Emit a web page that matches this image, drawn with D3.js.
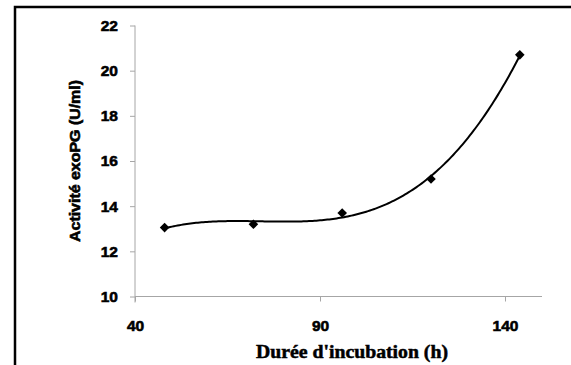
<!DOCTYPE html>
<html>
<head>
<meta charset="utf-8">
<script src="https://cdn.jsdelivr.net/npm/d3@7"></script>
<style>
  html, body { margin: 0; padding: 0; background: #fff; }
  svg { display: block; }
</style>
</head>
<body>
<svg id="chart" width="571" height="365"></svg>
<script>
// Incubation time (h) and exo-polygalacturonase activity (U/ml)
const hours = [48, 72, 96, 120, 144];
const activity = [13.05, 13.2, 13.7, 15.2, 20.7];
const xTicks = [40, 90, 140];
const yTicks = [10, 12, 14, 16, 18, 20, 22];

const svg = d3.select("#chart");
const W = 571, H = 365;

// outer chart frame (continues past right and bottom edges)
svg.append("rect")
  .attr("x", 15).attr("y", 7)
  .attr("width", W + 10).attr("height", H + 10)
  .attr("fill", "#fff").attr("stroke", "#000").attr("stroke-width", 2.5);

const x = d3.scaleLinear().domain([40, 150]).range([135, 542]);
const y = d3.scaleLinear().domain([10, 22]).range([296.5, 25.5]);

const axisColor = "#a6a6a6";
const tickFont = "'Liberation Sans', Arial, sans-serif";

// heavy bold text helper
function heavy(sel, size) {
  sel.attr("font-family", tickFont).attr("font-weight", "bold")
    .attr("font-size", size).attr("fill", "#000")
    .attr("stroke", "#000").attr("stroke-width", 0.6);
}

// y axis
const gy = svg.append("g").attr("transform", `translate(${x(40)},0)`)
  .call(d3.axisLeft(y).tickValues(yTicks).tickSize(5).tickPadding(12).tickFormat(d3.format("d")));
gy.select(".domain").attr("stroke", axisColor).attr("d", `M0,${y(22)}V${y(10) + 6}`);
gy.selectAll(".tick line").attr("stroke", axisColor);
gy.selectAll(".tick text").call(heavy, 15.5);

// x axis
const gx = svg.append("g").attr("transform", `translate(0,${y(10)})`)
  .call(d3.axisBottom(x).tickValues(xTicks).tickSize(5).tickPadding(18).tickFormat(d3.format("d")));
gx.select(".domain").attr("stroke", axisColor).attr("d", `M${x(40)},0H${x(150)}`);
gx.selectAll(".tick line").attr("stroke", axisColor);
gx.selectAll(".tick text").call(heavy, 15.5);

// cubic polynomial trend line (least squares on the measured points)
function polyFit(xs, ys, deg) {
  const n = deg + 1;
  const A = Array.from({length: n}, () => new Array(n + 1).fill(0));
  for (let k = 0; k < xs.length; k++) {
    const p = [];
    for (let i = 0; i < n; i++) p.push(Math.pow(xs[k], i));
    for (let i = 0; i < n; i++) {
      for (let j = 0; j < n; j++) A[i][j] += p[i] * p[j];
      A[i][n] += p[i] * ys[k];
    }
  }
  for (let i = 0; i < n; i++) {
    let m = i;
    for (let r = i + 1; r < n; r++) if (Math.abs(A[r][i]) > Math.abs(A[m][i])) m = r;
    [A[i], A[m]] = [A[m], A[i]];
    for (let r = 0; r < n; r++) {
      if (r === i) continue;
      const f = A[r][i] / A[i][i];
      for (let c = i; c <= n; c++) A[r][c] -= f * A[i][c];
    }
  }
  return A.map((row, i) => row[n] / row[i]);
}
const t = hours.map(h => (h - 96) / 24);
const coef = polyFit(t, activity, 3);
const trend = d3.range(hours[0], hours[hours.length - 1] + 0.01, 0.5).map(h => {
  const u = (h - 96) / 24;
  return [h, coef.reduce((s, c, i) => s + c * Math.pow(u, i), 0)];
});

svg.append("path")
  .datum(trend)
  .attr("fill", "none").attr("stroke", "#000").attr("stroke-width", 2)
  .attr("d", d3.line().x(d => x(d[0])).y(d => y(d[1])));

// diamond markers
svg.append("g").selectAll("path")
  .data(hours.map((h, i) => [h, activity[i]]))
  .join("path")
  .attr("d", d3.symbol().type(d3.symbolSquare).size(46))
  .attr("transform", d => `translate(${x(d[0])},${y(d[1])}) rotate(45)`)
  .attr("fill", "#000");

// axis titles
svg.append("text")
  .attr("x", 352).attr("y", 358)
  .attr("text-anchor", "middle")
  .attr("font-family", "'Liberation Serif', 'Times New Roman', serif")
  .attr("font-weight", "bold").attr("font-size", 18)
  .attr("stroke", "#000").attr("stroke-width", 0.5)
  .attr("textLength", 192).attr("lengthAdjust", "spacingAndGlyphs")
  .text("Durée d'incubation (h)");

svg.append("text")
  .attr("transform", "translate(80,161) rotate(-90)")
  .attr("text-anchor", "middle")
  .call(heavy, 14)
  .attr("textLength", 162).attr("lengthAdjust", "spacingAndGlyphs")
  .text("Activité exoPG (U/ml)");
</script>
</body>
</html>
